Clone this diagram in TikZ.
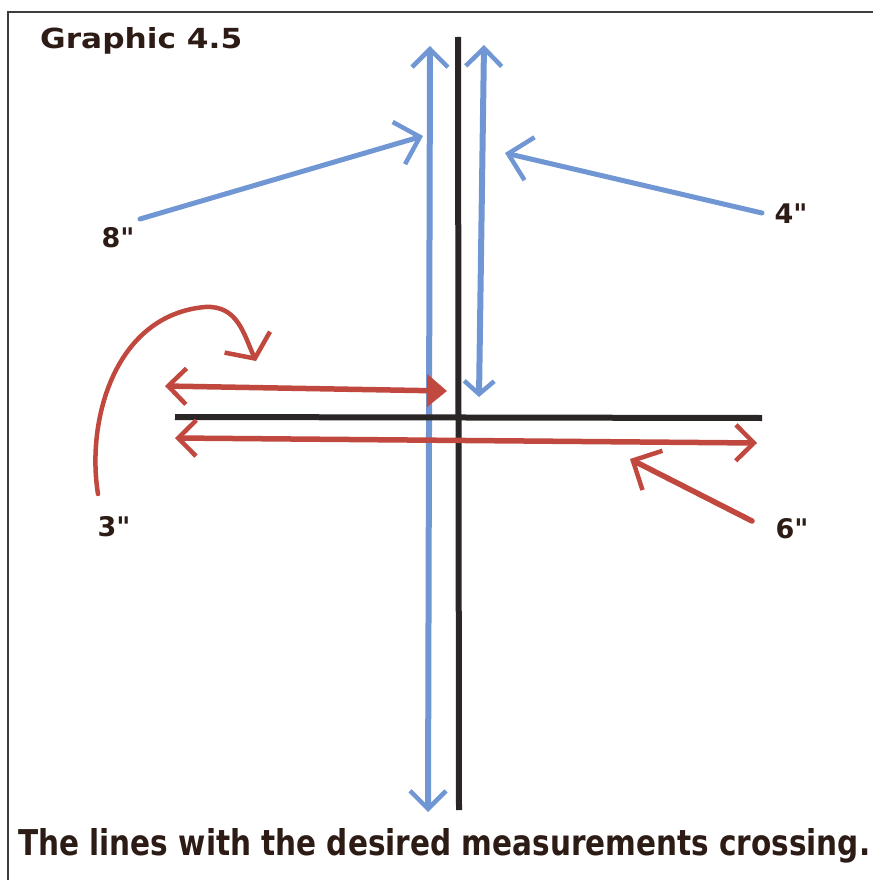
\documentclass[tikz,border=0pt]{standalone}
\usepackage{fontspec}
\setmainfont{DejaVu Sans}[Ligatures=TeXOff]
\usetikzlibrary{arrows.meta}
\definecolor{pblue}{RGB}{112,150,212}
\definecolor{pred}{RGB}{192,72,62}
\definecolor{pblack}{RGB}{42,38,38}
\definecolor{ink}{RGB}{45,28,22}
\newcommand{\inch}{\symbol{34}}
\tikzset{
  bluepen/.style={draw=pblue, line width=6pt, line cap=round},
  redpen/.style={draw=pred, line width=5.5pt, line cap=round},
  blackpen/.style={draw=pblack, line width=6pt},
  framepen/.style={draw=pblack!90, line width=1.5pt},
  lab/.style={font=\bfseries\fontsize{27}{27}\selectfont, text=ink, inner sep=0pt},
  txt/.style={font=\bfseries, text=ink, inner sep=0pt},
  barbA/.tip={Straight Barb[length=18pt,width=36pt,line width=4.5pt]},
  barbS/.tip={Straight Barb[length=13pt,width=30pt,line width=4.5pt]},
  barbP/.tip={Straight Barb[length=22pt,width=44pt,line width=4.5pt]},
  barbW/.tip={Straight Barb[length=18pt,width=50pt,line width=4.5pt]},
  triA/.tip={Triangle[length=20pt,width=32pt]},
}
\begin{document}
\begin{tikzpicture}[x=1pt,y=-1pt]
\useasboundingbox (0,0) rectangle (873,880);
\fill[white] (0,0) rectangle (873,880);
% frame
\coordinate (frTR) at (873,12);
\coordinate (frTL) at (8,12);
\coordinate (frBL) at (8,880);
\draw[framepen] (frTR) -- (frTL) -- (frBL);

% texts
\node[txt, anchor=base west] (title) at (40,49) {\resizebox{202pt}{21pt}{Graphic 4.5}};
\node[txt, anchor=base west] (caption) at (18,855) {\resizebox{852pt}{27pt}{The lines with the desired measurements crossing.}};
\node[lab] (l8) at (118,238) {8\inch};
\node[lab] (l4) at (791,214) {4\inch};
\node[lab] (l3) at (114,527) {3\inch};
\node[lab] (l6) at (792,529) {6\inch};

% coordinates
\coordinate (vT) at (458,37);
\coordinate (vB) at (459,810);
\coordinate (hL) at (175,417);
\coordinate (hR) at (762,418);
\coordinate (b1T) at (430,46);
\coordinate (b1B) at (428,812);
\coordinate (b2T) at (484,45);
\coordinate (b2B) at (479,397);
\coordinate (r1L) at (165,386);
\coordinate (r1R) at (447,391);
\coordinate (r2L) at (175,438);
\coordinate (r2R) at (757,443);
\coordinate (a8s) at (140,219);
\coordinate (a8e) at (423,136);
\coordinate (a4s) at (762,213);
\coordinate (a4e) at (505,153);
\coordinate (a6s) at (752,521);
\coordinate (a6e) at (630,459);
\coordinate (a3s) at (98,494);
\coordinate (a3m) at (205,307);
\coordinate (a3e) at (256,361);

% blue double arrows
\draw[bluepen, barbA-barbA] (b1T) -- (b1B);
\draw[bluepen, barbA-barbS] (b2T) -- (b2B);

% black axes
\draw[blackpen] (vT) -- (vB);
\draw[blackpen] (hL) -- (hR);

% blue pointer arrows
\draw[bluepen, line width=5pt, -barbP] (a8s) -- (a8e);
\draw[bluepen, line width=5pt, -barbP] (a4s) -- (a4e);

% red double arrows
\draw[redpen, barbA-triA] (r1L) -- (r1R);
\draw[redpen, barbA-barbA] (r2L) -- (r2R);

% red pointer arrows
\draw[redpen, -barbP] (a6s) -- (a6e);
\draw[redpen, line width=4.5pt, -barbW]
  (a3s) .. controls (86,420) and (115,315) .. (a3m) .. controls (238,305) and (244,335) .. (a3e);
\end{tikzpicture}
\end{document}
